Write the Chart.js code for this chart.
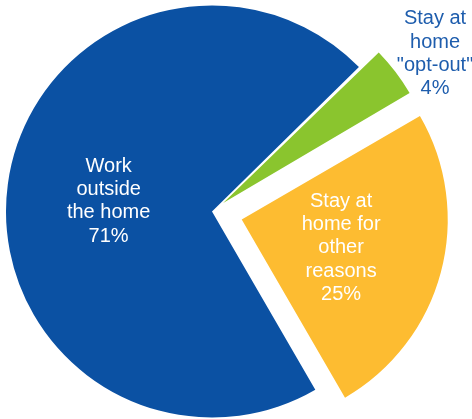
<!DOCTYPE html>
<html>
<head>
<meta charset="utf-8">
<script src="https://cdn.jsdelivr.net/npm/chart.js@4/dist/chart.umd.min.js"></script>
<style>
    html, body { margin: 0; padding: 0; background: #fff; }
    #wrap { width: 472px; height: 419px; position: relative; }
</style>
</head>
<body>
<div id="wrap"><canvas id="workChart"></canvas></div>
<script>
// Slices run clockwise from the green wedge
const labels = ['Stay at home "opt-out"', 'Stay at home for other reasons', 'Work outside the home'];
const shares = [4, 25, 71];
const labelLines = [
    ['Stay at', 'home', '"opt-out"'],
    ['Stay at', 'home for', 'other', 'reasons'],
    ['Work', 'outside', 'the home']
];
const colors = ['#8AC52E', '#FDBC31', '#0B51A3'];
const textColors = ['#1E5DAD', '#FFFFFF', '#FFFFFF'];
const explode = [56, 123, 0];
const labelDist = [1.262, 0.5, 0.505];
const labelTurn = [1.9, 0.3, -1.2];   // degrees, small nudge off the middle angle

// Writes each slice's text along its middle angle
const sliceLabels = {
    id: 'sliceLabels',
    afterDatasetsDraw(chart) {
        const ctx = chart.ctx;
        const meta = chart.getDatasetMeta(0);
        ctx.save();
        ctx.font = '20px "Liberation Sans", Arial, sans-serif';
        ctx.textAlign = 'center';
        ctx.textBaseline = 'middle';
        const lineH = 23.3;
        meta.data.forEach((arc, i) => {
            const { x, y, startAngle, endAngle, outerRadius } = arc.getProps(['x', 'y', 'startAngle', 'endAngle', 'outerRadius'], true);
            const mid = (startAngle + endAngle) / 2;
            const shift = (arc.options.offset || 0) / 4;
            const cx = x + Math.cos(mid) * shift;
            const cy = y + Math.sin(mid) * shift;
            const a = mid + labelTurn[i] * Math.PI / 180;
            const px = cx + Math.cos(a) * outerRadius * labelDist[i];
            const py = cy + Math.sin(a) * outerRadius * labelDist[i] + 1.5;
            const lines = labelLines[i].concat([shares[i] + '%']);
            const top = py - (lines.length - 1) * lineH / 2;
            ctx.fillStyle = textColors[i];
            lines.forEach((t, k) => ctx.fillText(t, px, top + k * lineH));
        });
        ctx.restore();
    }
};

new Chart(document.getElementById('workChart'), {
    type: 'pie',
    data: {
        labels: labels,
        datasets: [{
            data: shares,
            backgroundColor: colors,
            borderWidth: 0,
            offset: explode,
            clip: false
        }]
    },
    options: {
        responsive: true,
        maintainAspectRatio: false,
        animation: false,
        rotation: 45.5,
        radius: 206,
        layout: { padding: { left: 0, right: 48, top: 4, bottom: 0 } },
        plugins: {
            legend: { display: false },
            tooltip: { enabled: false }
        }
    },
    plugins: [sliceLabels]
});
</script>
</body>
</html>
